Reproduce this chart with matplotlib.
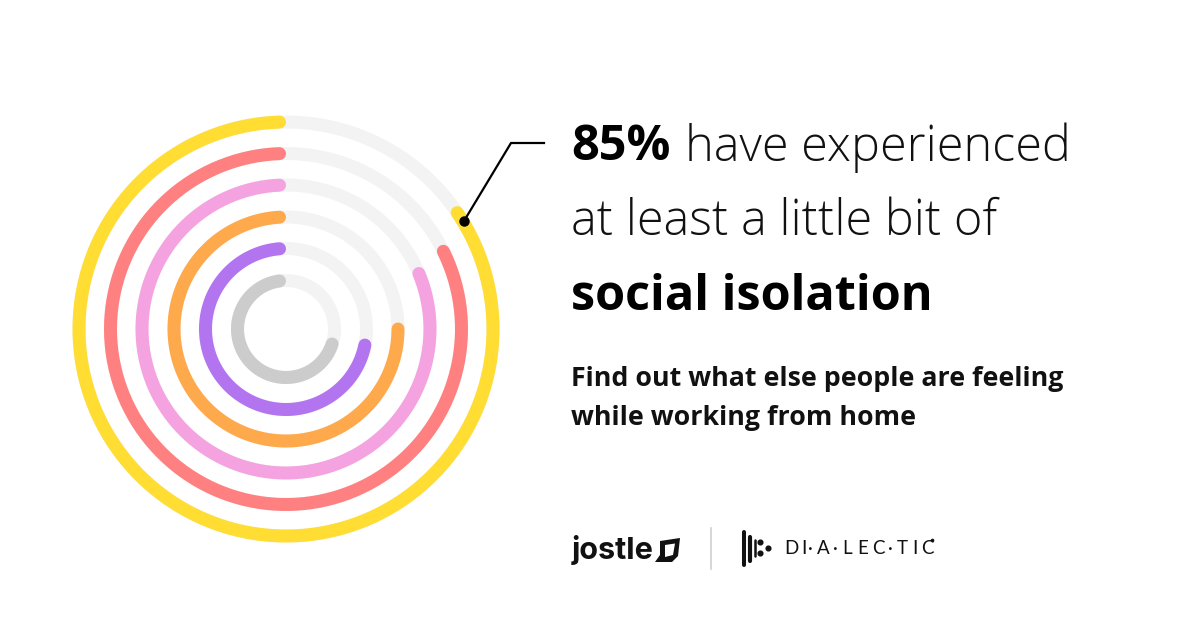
import numpy as np
import matplotlib
matplotlib.use('Agg')
import matplotlib.pyplot as plt
from matplotlib.patches import Polygon

# share of respondents per ring, outer to inner
values = [84.5, 82.3, 81.3, 75.0, 71.8, 70.0]
ring_colors = ['#ffdd33', '#ff8080', '#f5a3e0', '#ffa94d', '#b374f0', '#cccccc']
track_color = '#f3f3f3'

W, H = 1200, 628
cx, cy = 286, 329
rmax = 230
ring_radius = [207, 175.5, 144, 112, 80.5, 48.5]
cap_px = 6.5

plt.rcParams['font.family'] = ['Open Sans', 'DejaVu Sans']
fig = plt.figure(figsize=(W / 100, H / 100), dpi=100, facecolor='white')

# polar axes for the rings
ax = fig.add_axes([(cx - rmax) / W, 1 - (cy + rmax) / H, 2 * rmax / W, 2 * rmax / H], projection='polar')
ax.set_theta_zero_location('N')
ax.set_theta_direction(-1)
ax.set_ylim(0, rmax)
ax.axis('off')

lw = 13 * 0.72
for r, v, c in zip(ring_radius, values, ring_colors):
    t = np.linspace(0, 2 * np.pi, 361)
    ax.plot(t, np.full_like(t, r), color=track_color, lw=lw, solid_capstyle='butt', zorder=1)
    # round cap stops at 12 o'clock, so pull the start back by the cap radius
    t = np.linspace(2 * np.pi - cap_px / r, 2 * np.pi * (1 - v / 100), 361)
    ax.plot(t, np.full_like(t, r), color=c, lw=lw, solid_capstyle='round', zorder=2)

# overlay in pixel coordinates for text and logos
ov = fig.add_axes([0, 0, 1, 1], facecolor='none')
ov.set_xlim(0, W)
ov.set_ylim(H, 0)
ov.axis('off')

# callout
ov.plot([464, 511, 544], [221, 143, 143], color='#000000', lw=1.6, zorder=5, solid_joinstyle='miter')
ov.plot([464], [221], 'o', color='#000000', ms=6.5, zorder=6)

# headline
ov.text(571, 148, '85%', fontsize=35, fontweight='bold', va='center', color='#000000')
ov.text(685, 148, 'have experienced', fontsize=35, fontweight='light', va='center', color='#111111')
ov.text(571, 222, 'at least a little bit of', fontsize=35, fontweight='light', va='center', color='#111111')
ov.text(571, 297, 'social isolation', fontsize=35, fontweight='bold', va='center', color='#000000')

# subtitle
ov.text(571, 379, 'Find out what else people are feeling', fontsize=19.25, fontweight='bold', va='center', color='#111111')
ov.text(571, 418, 'while working from home', fontsize=19.25, fontweight='bold', va='center', color='#111111')

# jostle logo
ov.text(572, 550, 'jostle', fontsize=22, fontweight='bold', family=['Inter', 'DejaVu Sans'], va='center', color='#111111')
ov.add_patch(Polygon([[660, 541], [680, 538], [678, 556], [672, 562], [655, 562], [660, 555]], closed=True, fc='#111111', ec='none'))
ov.add_patch(Polygon([[665, 545], [675, 543.5], [673, 555], [665, 557]], closed=True, fc='white', ec='none'))

# divider
ov.plot([710.5, 710.5], [528, 569], color='#d0d0d0', lw=1.2)

# dialectic logo
bar_x = [743.5, 750, 755]
bar_top = [532, 537, 540]
bar_bot = [565, 561, 556]
bar_w = [2.9, 3.0, 1.8]
for x, t, b, w in zip(bar_x, bar_top, bar_bot, bar_w):
    ov.plot([x, x], [t, b], color='#111111', lw=w, solid_capstyle='round')
ov.plot([760, 760, 768], [542, 553, 548], 'o', color='#111111', ms=3.4)
letters = ['D', 'I', '·', 'A', '·', 'L', 'E', 'C', '·', 'T', 'I', 'C']
letter_x = [784, 801, 808, 817, 833, 842, 857, 872, 888, 897, 912, 921]
for ch, x in zip(letters, letter_x):
    ov.text(x, 548, ch, fontsize=13.5, family=['Lato', 'DejaVu Sans'], va='center', color='#111111')
ov.plot([932], [540], 'o', color='#111111', ms=1.6)

fig.savefig('out.png', dpi=100, facecolor='white')
